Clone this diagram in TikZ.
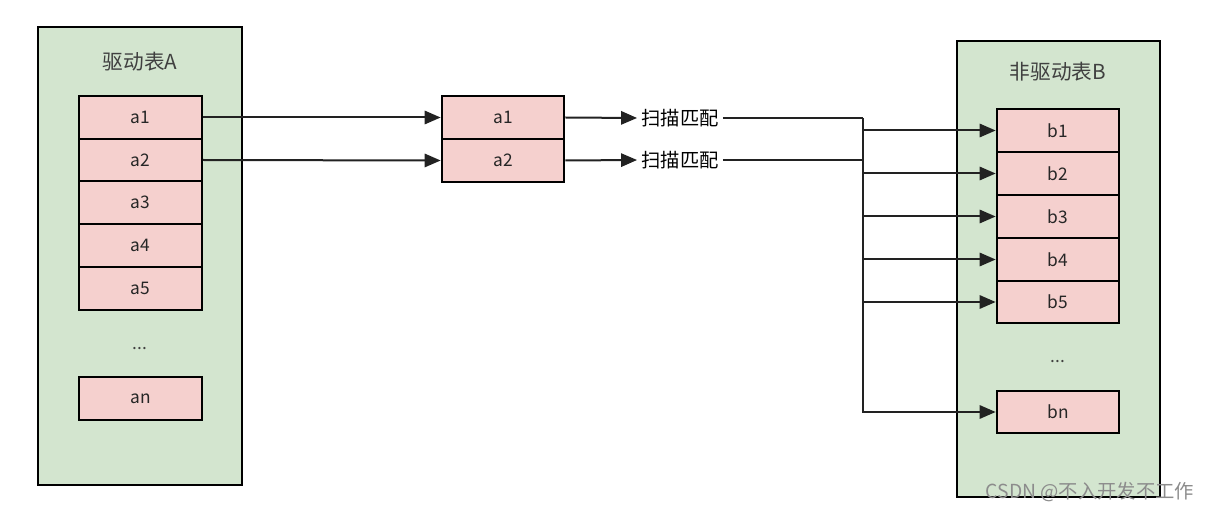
\documentclass[tikz,border=0pt]{standalone}
\usepackage{fontspec}
\setmainfont{Noto Sans CJK SC}
\usetikzlibrary{arrows.meta,calc}
\definecolor{tgreen}{HTML}{D3E5CF}
\definecolor{tpink}{HTML}{F5D0CE}
\definecolor{tline}{HTML}{222222}
\begin{document}
\begin{tikzpicture}[x=0.75pt,y=-0.75pt,
  tablebox/.style={draw=black,line width=1.6pt,fill=tgreen},
  cell/.style={draw=black,line width=1.5pt,fill=tpink,minimum width=92pt,minimum height=32pt,inner sep=0pt,font=\fontsize{13}{15}\selectfont,text=black!85},
  ttl/.style={font=\fontsize{15.5}{18}\selectfont,text=black!75},
  dots/.style={font=\fontsize{13}{15}\selectfont,text=black!75},
  arr/.style={draw=tline,line width=1.5pt,-{Triangle[length=12pt,width=10pt]}},
  ln/.style={draw=tline,line width=1.5pt},
  lbl/.style={font=\fontsize{14.5}{17}\selectfont,text=black,inner sep=3pt}]
\useasboundingbox (0,0) rectangle (1211,513);
% table A
\draw[tablebox] (38,27) rectangle (242,485);
\node[ttl] (ta) at (140,62) {驱动表A};
\node[cell] (a1) at (140.5,117.5) {a1};
\node[cell] (a2) at (140.5,160) {a2};
\node[cell] (a3) at (140.5,202.5) {a3};
\node[cell] (a4) at (140.5,245.5) {a4};
\node[cell] (a5) at (140.5,288.5) {a5};
\node[dots] (ad) at (140,349) {...};
\node[cell] (an) at (140.5,398.5) {an};
% middle
\node[cell] (m1) at (503,117.5) {a1};
\node[cell] (m2) at (503,160.5) {a2};
% table B
\draw[tablebox] (957,41) rectangle (1160,497);
\node[ttl] (tb) at (1058,72) {非驱动表B};
\node[cell] (b1) at (1058,130.5) {b1};
\node[cell] (b2) at (1058,173.5) {b2};
\node[cell] (b3) at (1058,216.5) {b3};
\node[cell] (b4) at (1058,259.5) {b4};
\node[cell] (b5) at (1058,302) {b5};
\node[dots] (bd) at (1058,362) {...};
\node[cell] (bn) at (1058,412) {bn};
% labels
\node[lbl] (s1) at (680,118) {扫描匹配};
\node[lbl] (s2) at (680,160) {扫描匹配};
\coordinate (j1) at (863,118);
\coordinate (j2) at (863,160);
% connectors
\draw[arr] (a1.east) -- (m1.west);
\draw[arr] (a2.east) -- (m2.west);
\draw[arr] (m1.east) -- (s1.west);
\draw[arr] (m2.east) -- (s2.west);
\draw[ln] (s1.east) -- (j1);
\draw[ln] (s2.east) -- (j2);
\draw[arr] (j1) |- (bn.west);
\draw[arr] (j1 |- b1.west) -- (b1.west);
\draw[arr] (j1 |- b2.west) -- (b2.west);
\draw[arr] (j1 |- b3.west) -- (b3.west);
\draw[arr] (j1 |- b4.west) -- (b4.west);
\draw[arr] (j1 |- b5.west) -- (b5.west);
% watermark
\node[font=\fontsize{14.5}{17}\selectfont,text=black!45] (wm) at (1090,492) {CSDN @不入开发不工作};
\end{tikzpicture}
\end{document}
